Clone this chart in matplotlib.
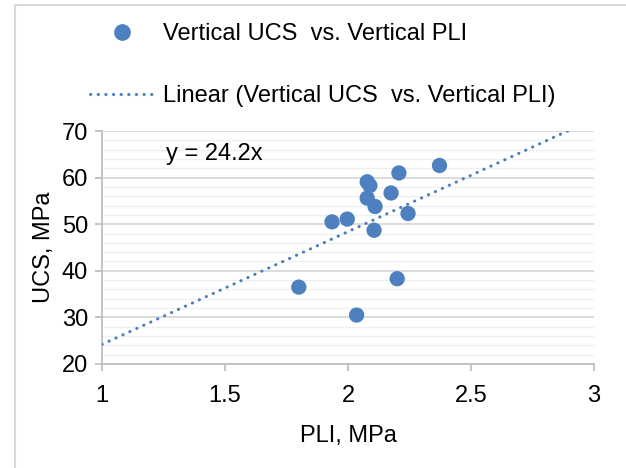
import numpy as np
import matplotlib
matplotlib.use("Agg")
import matplotlib.pyplot as plt
from matplotlib.lines import Line2D
from matplotlib.ticker import MultipleLocator, FixedLocator, FixedFormatter

plt.rcParams["font.family"] = ["Liberation Sans", "DejaVu Sans"]

# data
pli = [1.80, 1.935, 1.997, 2.035, 2.078, 2.089, 2.078, 2.11, 2.106, 2.175, 2.207, 2.20, 2.244, 2.372]
ucs = [36.5, 50.5, 51.1, 30.5, 59.1, 58.3, 55.6, 53.8, 48.7, 56.7, 61.0, 38.3, 52.3, 62.6]
slope = 24.2
x_ticks = [1, 1.5, 2, 2.5, 3]
x_tick_labels = ["1", "1.5", "2", "2.5", "3"]
y_ticks = [20, 30, 40, 50, 60, 70]

blue = "#4e7fbf"
grid_major = "#d9d9d9"
grid_minor = "#f0f0f0"
axis_gray = "#bfbfbf"
fs = 17
dots = (0, (0.1, 2.4))

fig = plt.figure(figsize=(6.26, 4.68), dpi=100)
ax = fig.add_axes([102 / 626, 1 - 364 / 468, 492 / 626, 233 / 468])

# trendline through origin, clipped at the top of the plot
x_end = min(3, y_ticks[-1] / slope)
xt = np.array([1, x_end])
ax.plot(xt, slope * xt, color=blue, lw=2.2, linestyle=dots,
        dash_capstyle="round", zorder=3)
ax.scatter(pli, ucs, s=11 ** 2, color=blue, edgecolor="none", zorder=4)

ax.set_xlim(1, 3)
ax.set_ylim(20, 70)
ax.xaxis.set_major_locator(FixedLocator(x_ticks))
ax.xaxis.set_major_formatter(FixedFormatter(x_tick_labels))
ax.yaxis.set_major_locator(FixedLocator(y_ticks))
ax.yaxis.set_minor_locator(MultipleLocator(2))
ax.grid(axis="y", which="major", color=grid_major, lw=1.3, zorder=0)
ax.grid(axis="y", which="minor", color=grid_minor, lw=1.0, zorder=0)
ax.set_axisbelow(True)

for s in ["top", "right"]:
    ax.spines[s].set_visible(False)
for s in ["left", "bottom"]:
    ax.spines[s].set_color(axis_gray)
    ax.spines[s].set_linewidth(1.3)
ax.tick_params(axis="both", which="major", direction="out", length=5, width=1.3,
               color=axis_gray, labelsize=fs, labelcolor="black", pad=5)
ax.tick_params(axis="x", which="major", pad=10)
ax.tick_params(axis="y", which="minor", length=0)

ax.set_xlabel("PLI, MPa", fontsize=fs, labelpad=13)
ax.set_ylabel("UCS, MPa", fontsize=fs, labelpad=5)

ax.text(1.26, 65, "y = 24.2x", fontsize=fs, va="center", ha="left")

handles = [
    Line2D([], [], marker="o", ms=11, color=blue, linestyle="none"),
    Line2D([], [], color=blue, lw=2.2, linestyle=dots, dash_capstyle="round"),
]
labels = ["Vertical UCS  vs. Vertical PLI", "Linear (Vertical UCS  vs. Vertical PLI)"]
fig.legend(handles, labels, loc="upper left", bbox_to_anchor=(90 / 626, 1 - 23 / 468),
           frameon=False, fontsize=fs, handlelength=2.75, handletextpad=0.35,
           labelspacing=1.7, borderpad=0, borderaxespad=0)

# chart border (top and left edges visible)
border_x = 14.5 / 626
border_y = 1 - 4.5 / 468
fig.add_artist(Line2D([border_x, border_x, 1], [0, border_y, border_y],
                      transform=fig.transFigure, color="#d9d9d9", lw=1.5))

fig.savefig("out.png", dpi=100)
